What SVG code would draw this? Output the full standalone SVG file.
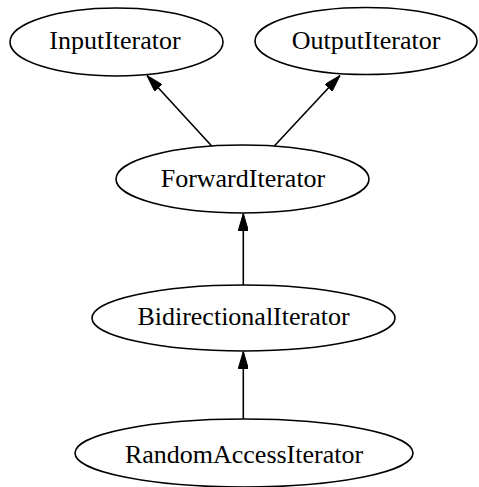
<svg xmlns="http://www.w3.org/2000/svg" width="479" height="487" viewBox="0 0 479 487">
  <style>
    .node ellipse { fill: none; stroke: #000; stroke-width: 1.6; }
    .node text { font-family: "Liberation Serif", "Times New Roman", serif; font-size: 26px; fill: #000; text-anchor: middle; }
    .edges line { stroke: #000; stroke-width: 1.6; marker-end: url(#arrow); }
  </style>
  <defs>
    <marker id="arrow" markerUnits="userSpaceOnUse" viewBox="0 0 17 10" markerWidth="17" markerHeight="10" refX="17" refY="5" orient="auto">
      <path d="M0,0 L17,5 L0,10 Z" fill="#000" stroke="#000" stroke-width="1"/>
    </marker>
  </defs>
  <rect width="479" height="487" fill="#fff"/>

  <!-- iterator category hierarchy: arrows point from refined concept to its base -->
  <g class="edges" id="edges">
    <line x1="211.7" y1="146" x2="147" y2="75.5"/>
    <line x1="274.3" y1="146" x2="340" y2="75.5"/>
    <line x1="243.3" y1="285" x2="243.3" y2="213.5"/>
    <line x1="243.3" y1="419" x2="243.3" y2="351.5"/>
  </g>

  <g class="node" id="InputIterator">
    <ellipse cx="116.5" cy="42" rx="106.5" ry="34"/>
    <text x="115" y="48.5">InputIterator</text>
  </g>
  <g class="node" id="OutputIterator">
    <ellipse cx="366" cy="41" rx="111" ry="33.5"/>
    <text x="366" y="48.5">OutputIterator</text>
  </g>
  <g class="node" id="ForwardIterator">
    <ellipse cx="242.5" cy="179" rx="126.5" ry="34"/>
    <text x="243" y="187">ForwardIterator</text>
  </g>
  <g class="node" id="BidirectionalIterator">
    <ellipse cx="243.5" cy="318" rx="151.5" ry="33"/>
    <text x="243.5" y="325">BidirectionalIterator</text>
  </g>
  <g class="node" id="RandomAccessIterator">
    <ellipse cx="244" cy="453" rx="169" ry="34"/>
    <text x="244" y="462.5">RandomAccessIterator</text>
  </g>
</svg>
